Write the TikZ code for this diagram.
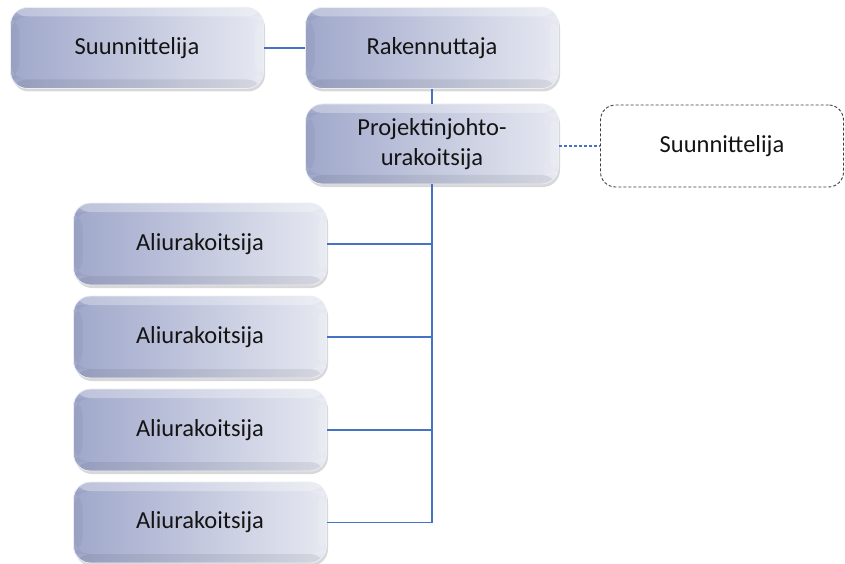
\documentclass[tikz,border=0pt]{standalone}
\usepackage{fontspec}
\setmainfont{Carlito}
\usetikzlibrary{shadows,shadings}
\definecolor{boxL}{RGB}{160,168,203}
\definecolor{boxR}{RGB}{230,232,241}
\definecolor{conncol}{RGB}{68,114,196}
\definecolor{txt}{RGB}{20,20,20}
\tikzset{
  orgbox/.style={rounded corners=17pt, left color=boxL, right color=boxR,
    draw=white!80!boxL, line width=0.8pt,
    drop shadow={shadow xshift=1.5pt, shadow yshift=-3pt, opacity=0.22, fill=black!70},
    path picture={
      \fill[white, opacity=0.30] (path picture bounding box.north west) rectangle ([yshift=-9pt]path picture bounding box.north east);
      \fill[black, opacity=0.07] (path picture bounding box.south west) rectangle ([yshift=9pt]path picture bounding box.south east);
      \fill[white, opacity=0.18] ([yshift=-9pt]path picture bounding box.north east) rectangle ([xshift=-9pt,yshift=9pt]path picture bounding box.south east);
      \fill[black, opacity=0.04] ([yshift=-9pt]path picture bounding box.north west) rectangle ([xshift=9pt,yshift=9pt]path picture bounding box.south west);
    },
    minimum width=253pt, minimum height=81pt, align=center,
    font=\fontsize{24.5}{30}\selectfont, text=txt, inner sep=0pt},
  dashbox/.style={rounded corners=15pt, draw=black!75, dash pattern=on 3pt off 2pt,
    line width=0.9pt, fill=white,
    minimum width=243pt, minimum height=82pt, align=center,
    font=\fontsize{24.5}{30}\selectfont, text=txt, inner sep=0pt},
  conn/.style={draw=conncol, line width=1.4pt},
  dashconn/.style={draw=conncol, line width=1.2pt, dash pattern=on 3pt off 2pt}
}
\begin{document}
\begin{tikzpicture}[x=1pt,y=-1pt]
\useasboundingbox (0,0) rectangle (845,564);
\node[orgbox] (s1) at (137,48) {Suunnittelija};
\node[orgbox] (rak) at (432,48) {Rakennuttaja};
\node[orgbox, minimum height=80pt] (pj) at (432,144) {Projektinjohto-\\urakoitsija};
\node[dashbox] (s2) at (722,146) {Suunnittelija};
\node[orgbox, minimum height=82pt] (a1) at (200,244) {Aliurakoitsija};
\node[orgbox, minimum height=82pt] (a2) at (200,337) {Aliurakoitsija};
\node[orgbox, minimum height=82pt] (a3) at (200,430) {Aliurakoitsija};
\node[orgbox, minimum height=81pt] (a4) at (200,522.5) {Aliurakoitsija};
\draw[conn] (s1.east) -- (rak.west);
\draw[conn] (rak.south) -- (pj.north);
\draw[conn] (pj.south) |- (a1.east);
\draw[conn] (pj.south) |- (a2.east);
\draw[conn] (pj.south) |- (a3.east);
\draw[conn] (pj.south) |- (a4.east);
\draw[dashconn] (pj.east |- s2.west) -- (s2.west);
\end{tikzpicture}
\end{document}
